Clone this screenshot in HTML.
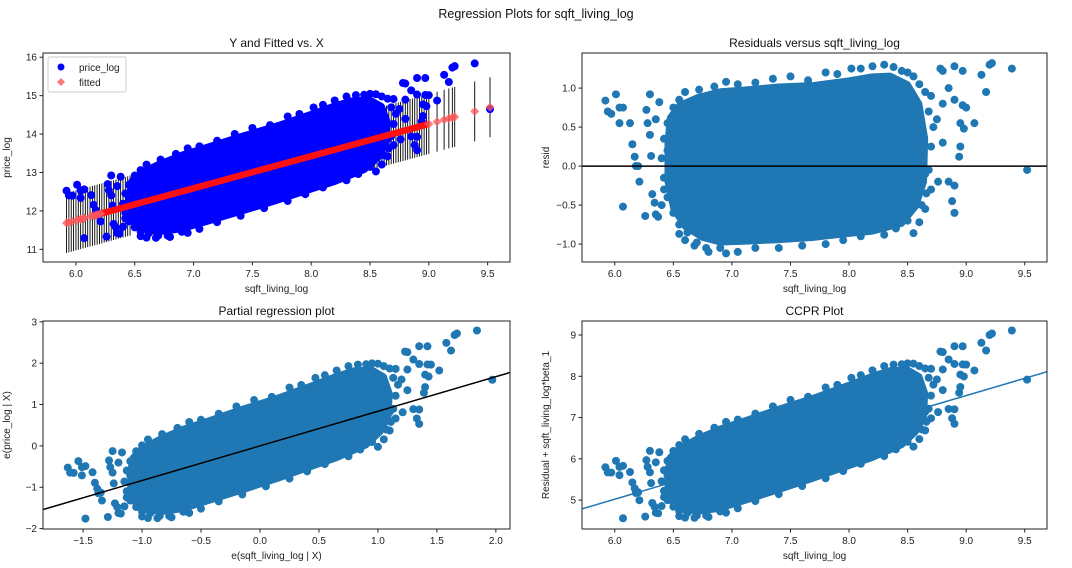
<!DOCTYPE html>
<html><head><meta charset="utf-8"><style>
html,body{margin:0;padding:0;background:#fff;}
svg{display:block;font-family:"Liberation Sans","DejaVu Sans",sans-serif;}
</style></head><body>
<svg id="fig" width="1072" height="568" viewBox="0 0 1072 568" xmlns="http://www.w3.org/2000/svg">
<rect width="1072" height="568" fill="#fff"/>
<text x="536" y="18" text-anchor="middle" font-size="12.5" fill="#111">Regression Plots for sqft_living_log</text>
</svg>
<script>
// shared data: x (sqft_living_log) and residuals of outlying / edge observations
const outX = [5.92,5.94,5.97,6.01,6.04,6.04,6.07,6.07,6.13,6.15,6.17,6.18,6.2,6.21,6.26,6.27,6.28,6.3,6.31,6.32,6.34,6.35,6.37,6.38,6.4,6.55,6.6,6.68,6.8,6.95,8.55,8.6,8.65,8.7,8.76,8.78,8.8,8.85,8.88,8.9,8.9,8.9,8.94,8.95,8.95,8.97,8.97,8.98,9.0,9.07,9.13,9.17,9.2,9.22,9.39,9.52,8.7,8.75,8.8,8.85,8.9,8.8,8.6,8.65,6.3,6.35,6.42,6.45,
 6.55,6.6,6.72,6.85,6.95,7.05,7.2,7.35,7.5,7.65,7.8,7.9,8.02,8.1,8.2,8.3,8.38,8.45,8.5,8.55,8.6,8.65,8.68,8.72,8.7,8.68,8.66,8.62,8.5,8.4,8.3,8.1,7.95,7.8,7.6,7.4,7.2,7.05,6.9,6.78,6.7,6.62,6.55,6.5,6.45,6.42,6.4,6.42,6.45,6.5];
const outR = [0.84,0.70,0.67,0.92,0.75,0.55,0.75,-0.52,0.55,0.28,0.12,0.0,0.0,-0.2,-0.64,0.72,0.55,0.92,0.13,-0.36,-0.47,-0.62,-0.65,0.82,-0.5,-0.87,-0.95,-1.02,-1.1,-1.12,-0.86,-0.72,-0.55,-0.3,-0.2,1.25,1.22,-0.2,-0.45,-0.6,-0.25,1.28,0.12,0.25,0.55,0.78,1.22,0.48,0.75,0.55,1.17,0.95,1.3,1.32,1.25,-0.05,0.9,0.6,0.8,1.0,0.85,0.3,0.0,-0.1,0.4,0.6,-0.3,0.2,
 0.85,0.95,0.98,1.02,1.08,1.05,1.07,1.12,1.15,1.1,1.2,1.18,1.25,1.25,1.28,1.3,1.27,1.22,1.2,1.15,1.05,0.95,0.7,0.5,0.25,-0.05,-0.35,-0.5,-0.7,-0.8,-0.88,-0.9,-0.95,-1.0,-1.02,-1.05,-1.05,-1.1,-1.05,-1.05,-0.98,-0.85,-0.75,-0.6,-0.4,-0.15,0.1,0.35,0.55,0.75];
// dense cloud outline in (x, resid) space
const cloudX = [6.47,6.55,6.7,6.9,7.1,7.4,7.7,8.0,8.2,8.35,8.5,8.6,8.65,8.64,8.57,8.45,8.2,8.0,7.7,7.4,7.1,6.9,6.75,6.6,6.5,6.45,6.45];
const cloudR = [0.62,0.78,0.88,0.96,0.98,1.02,1.04,1.1,1.15,1.16,1.05,0.8,0.35,-0.2,-0.52,-0.74,-0.84,-0.87,-0.92,-0.95,-0.97,-0.98,-0.92,-0.78,-0.55,-0.2,0.3];
// extra vertical interval line positions (panel 1)
const vlineX = [5.92,5.94,5.96,5.98,6.0,6.02,6.04,6.06,6.08,6.1,6.12,6.14,6.16,6.18,6.2,6.22,6.24,6.26,6.28,6.3,6.32,6.34,6.36,6.38,6.4,6.42,6.44,6.46,8.5,8.52,8.54,8.56,8.58,8.6,8.62,8.64,8.66,8.68,8.7,8.72,8.74,8.76,8.78,8.8,8.82,8.84,8.86,8.88,8.9,8.92,8.94,8.96,8.98,9.0,9.07,9.13,9.17,9.2,9.22,9.39,9.52];
const slope = 0.837, intercept = 6.73, xMean = 7.55, halfInterval = 0.78;
const fitLineX = [6.22, 9.0];

const xTicks1 = [6.0,6.5,7.0,7.5,8.0,8.5,9.0,9.5];
const yTicksP1 = [11,12,13,14,15,16];
const yTicksP2 = [-1.0,-0.5,0.0,0.5,1.0];
const xTicksP3 = [-1.5,-1.0,-0.5,0.0,0.5,1.0,1.5,2.0];
const yTicksP3 = [-2,-1,0,1,2,3];
const yTicksP4 = [5,6,7,8,9];

const NS = "http://www.w3.org/2000/svg";
const fig = document.getElementById('fig');
function mk(tag, attrs, parent){const e=document.createElementNS(NS,tag);for(const k in attrs)e.setAttribute(k,attrs[k]);(parent||fig).appendChild(e);return e;}

function panel(name, L, R, T, B, xmin, xmax, ymin, ymax){
  const g = mk('g',{});
  
  
  const sx = v => L + (v - xmin) / (xmax - xmin) * (R - L);
  const sy = v => B - (v - ymin) / (ymax - ymin) * (B - T);
  const cid = name + '-clip';
  const cp = mk('clipPath',{id:cid},g); mk('rect',{x:L,y:T,width:R-L,height:B-T},cp);
  const plot = mk('g',{'clip-path':'url(#'+cid+')'},g);
  return {g, plot, sx, sy, L, R, T, B};
}
function fmt(v, dec){return (v<0?'\u2212':'')+Math.abs(v).toFixed(dec);}
function axes(p, xt, xdec, yt, ydec, title, xlabel, ylabel){
  mk('rect',{x:p.L,y:p.T,width:p.R-p.L,height:p.B-p.T,fill:'none',stroke:'#222','stroke-width':1},p.g);
  xt.forEach(v=>{const x=p.sx(v);
    mk('line',{x1:x,x2:x,y1:p.B,y2:p.B+3.5,stroke:'#222'},p.g);
    const t=mk('text',{x:x,y:p.B+15,'text-anchor':'middle','font-size':10,fill:'#222'},p.g);t.textContent=fmt(v,xdec);
    
    });
  yt.forEach(v=>{const y=p.sy(v);
    mk('line',{x1:p.L-3.5,x2:p.L,y1:y,y2:y,stroke:'#222'},p.g);
    const t=mk('text',{x:p.L-6,y:y+3.5,'text-anchor':'end','font-size':10,fill:'#222'},p.g);t.textContent=fmt(v,ydec);
    
    });
  const cx=(p.L+p.R)/2, cy=(p.T+p.B)/2;
  const tt=mk('text',{x:cx,y:p.T-6,'text-anchor':'middle','font-size':12,fill:'#111'},p.g);tt.textContent=title;
  
  
  const xl=mk('text',{x:cx,y:p.B+30,'text-anchor':'middle','font-size':10,fill:'#222'},p.g);xl.textContent=xlabel;
  
  
  const yx=p.L-33;
  const yl=mk('text',{x:yx,y:cy,'text-anchor':'middle','font-size':10,fill:'#222',transform:`rotate(-90 ${yx} ${cy})`},p.g);yl.textContent=ylabel;
  
  
}
function cloud(p, fx, fy, color){
  const pts = cloudX.map((x,i)=>p.sx(fx(x,cloudR[i]))+','+p.sy(fy(x,cloudR[i]))).join(' ');
  const c=mk('polygon',{points:pts,fill:color,stroke:color,'stroke-width':6,'stroke-linejoin':'round'},p.plot);
  
  
  outX.forEach((x,i)=>{
    const d=mk('circle',{cx:p.sx(fx(x,outR[i])),cy:p.sy(fy(x,outR[i])),r:4,fill:color},p.plot);
    
    
  });
}
const fitted = x => intercept + slope*x;

// Panel 1
const p1 = panel('fitted-vs-x-panel',43,510,53,262,5.72,9.69,10.67,16.11);
vlineX.forEach(x=>{const l=mk('line',{x1:p1.sx(x),x2:p1.sx(x),y1:p1.sy(fitted(x)-halfInterval),y2:p1.sy(fitted(x)+halfInterval),stroke:'#000','stroke-width':0.9},p1.plot);
  
  });
cloud(p1,(x,r)=>x,(x,r)=>fitted(x)+r,'#0000ff');
const fl=mk('line',{x1:p1.sx(fitLineX[0]),x2:p1.sx(fitLineX[1]),y1:p1.sy(fitted(fitLineX[0])),y2:p1.sy(fitted(fitLineX[1])),stroke:'#ff1010','stroke-width':6.5},p1.plot);


outX.forEach(x=>{if(x<6.25||x>8.98){const cx=p1.sx(x),cy=p1.sy(fitted(x));
  const d=mk('polygon',{points:`${cx},${cy-4.5} ${cx+4.5},${cy} ${cx},${cy+4.5} ${cx-4.5},${cy}`,fill:'#ff5555','fill-opacity':0.75},p1.plot);
  
  }});
axes(p1,xTicks1,1,yTicksP1,0,'Y and Fitted vs. X','sqft_living_log','price_log');
const lg=mk('g',{},p1.g);


mk('rect',{x:48,y:57,width:78,height:35,rx:2,fill:'#fff','fill-opacity':0.8,stroke:'#ccc'},lg);
mk('circle',{cx:61,cy:67,r:3.5,fill:'#0000ff'},lg);
mk('polygon',{points:'61,78 65,82 61,86 57,82',fill:'#ff5555','fill-opacity':0.8},lg);
let t=mk('text',{x:79,y:71,'font-size':10,fill:'#222'},lg);t.textContent='price_log';
t=mk('text',{x:79,y:86,'font-size':10,fill:'#222'},lg);t.textContent='fitted';

// Panel 2
const p2 = panel('residuals-panel',582,1047,53,262,5.72,9.69,-1.23,1.45);
cloud(p2,(x,r)=>x,(x,r)=>r,'#1f77b4');
const zl=mk('line',{x1:582,x2:1047,y1:p2.sy(0),y2:p2.sy(0),stroke:'#000','stroke-width':1.5},p2.plot);


axes(p2,xTicks1,1,yTicksP2,1,'Residuals versus sqft_living_log','sqft_living_log','resid');

// Panel 3
const p3 = panel('partial-regression-panel',43,510,321,529,-1.84,2.12,-2.01,3.02);
cloud(p3,(x,r)=>x-xMean,(x,r)=>slope*(x-xMean)+r,'#1f77b4');
const rl=mk('line',{x1:p3.sx(-1.84),x2:p3.sx(2.12),y1:p3.sy(-1.84*slope),y2:p3.sy(2.12*slope),stroke:'#000','stroke-width':1.5},p3.plot);


axes(p3,xTicksP3,1,yTicksP3,0,'Partial regression plot','e(sqft_living_log | X)','e(price_log | X)');

// Panel 4
const p4 = panel('ccpr-panel',582,1047,321,529,5.72,9.69,4.3,9.34);
cloud(p4,(x,r)=>x,(x,r)=>slope*x+r,'#1f77b4');
const cl=mk('line',{x1:p4.sx(5.72),x2:p4.sx(9.69),y1:p4.sy(5.72*slope),y2:p4.sy(9.69*slope),stroke:'#1f77b4','stroke-width':1.5},p4.plot);


axes(p4,xTicks1,1,yTicksP4,0,'CCPR Plot','sqft_living_log','Residual + sqft_living_log*beta_1');
</script>
</body></html>
